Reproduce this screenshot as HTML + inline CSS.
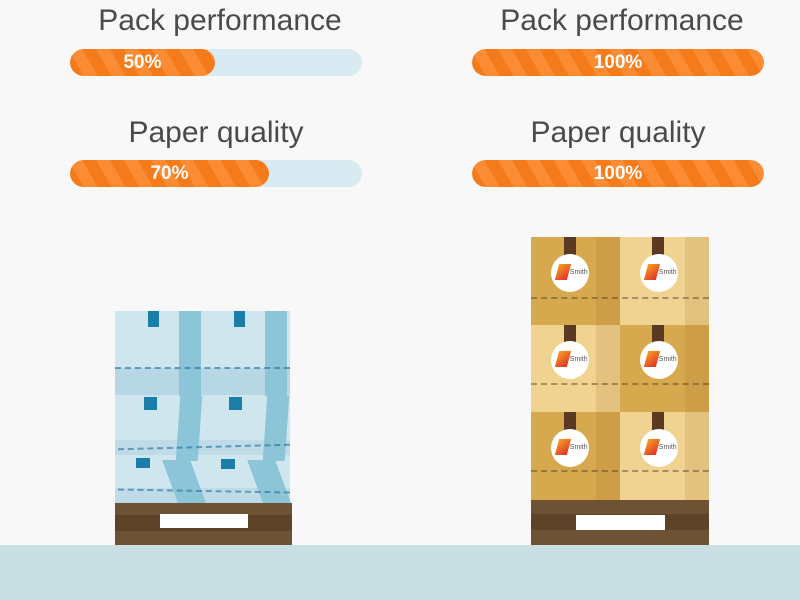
<!DOCTYPE html>
<html><head><style>
body{margin:0;width:800px;height:600px;background:#f8f8f8;position:relative;overflow:hidden;font-family:"Liberation Sans",sans-serif}
div{position:absolute;box-sizing:border-box}
.t{color:#4a4a4a;font-size:30px;text-align:center;width:320px}
.bar{height:27px;border-radius:14px;background:#d9ebf2;width:292px;overflow:hidden}
.fill{height:27px;border-radius:14px;left:0;top:0;background:repeating-linear-gradient(60deg,#f57a1a 0 12px,#fb8c34 12px 24px);color:#fff;font-weight:bold;font-size:19px;line-height:27px;text-align:center}
.dash{height:0;border-top:2px dashed rgba(80,60,30,.45)}
.bdash{height:0;border-top:2px dashed rgba(30,110,150,.6)}
.logo{width:38px;height:38px;border-radius:50%;background:#fff;font-size:7px;color:#555;line-height:38px;text-align:center}
.logo:before{content:"";position:absolute;left:6px;top:10px;width:12px;height:16px;background:linear-gradient(135deg,#f5a020,#e0302a);transform:skewX(-15deg)}
.tab{width:12px;height:18px;background:#5a3a22}
</style></head><body>
<div class="t" style="left:60px;top:4px">Pack performance</div>
<div class="bar" style="left:70px;top:49px"><div class="fill" style="width:145px">50%</div></div>
<div class="t" style="left:56px;top:116px">Paper quality</div>
<div class="bar" style="left:70px;top:160px"><div class="fill" style="width:199px">70%</div></div>
<div class="t" style="left:462px;top:4px">Pack performance</div>
<div class="bar" style="left:472px;top:49px"><div class="fill" style="width:292px">100%</div></div>
<div class="t" style="left:458px;top:116px">Paper quality</div>
<div class="bar" style="left:472px;top:160px"><div class="fill" style="width:292px">100%</div></div>

<div style="left:0;top:545px;width:800px;height:55px;background:#c9dfe2"></div>

<!-- left pallet -->
<div style="left:115px;top:311px;width:175px;height:192px;background:#d0e6ef"></div>
<div style="left:115px;top:368px;width:175px;height:27px;background:#b7d7e4"></div>
<div style="left:115px;top:440px;width:175px;height:15px;background:#bedbe7"></div>
<div style="left:115px;top:488px;width:175px;height:15px;background:#bedbe7"></div>
<div style="left:179px;top:311px;width:22px;height:85px;background:#8cc5d8"></div>
<div style="left:265px;top:311px;width:22px;height:85px;background:#8cc5d8"></div>
<div style="left:178px;top:396px;width:22px;height:65px;background:#8cc5d8;transform:skewX(-4deg)"></div>
<div style="left:265px;top:396px;width:22px;height:65px;background:#8cc5d8;transform:skewX(-4deg)"></div>
<div style="left:170px;top:460px;width:28px;height:43px;background:#8cc5d8;transform:skewX(20deg)"></div>
<div style="left:255px;top:460px;width:28px;height:43px;background:#8cc5d8;transform:skewX(20deg)"></div>
<div class="bdash" style="left:115px;top:367px;width:175px"></div>
<div class="bdash" style="left:118px;top:446px;width:172px;transform:rotate(-1.5deg)"></div>
<div class="bdash" style="left:118px;top:490px;width:172px;transform:rotate(1deg)"></div>
<div style="left:148px;top:311px;width:11px;height:16px;background:#1a7fa8"></div>
<div style="left:234px;top:311px;width:11px;height:16px;background:#1a7fa8"></div>
<div style="left:144px;top:397px;width:13px;height:13px;background:#1a7fa8"></div>
<div style="left:229px;top:397px;width:13px;height:13px;background:#1a7fa8"></div>
<div style="left:136px;top:458px;width:14px;height:10px;background:#1a7fa8"></div>
<div style="left:221px;top:459px;width:14px;height:10px;background:#1a7fa8"></div>
<div style="left:115px;top:503px;width:177px;height:42px;background:linear-gradient(#6e5236 0 12px,#5e4329 12px 28px,#6e5236 28px)"></div>
<div style="left:160px;top:514px;width:88px;height:14px;background:#fff"></div>

<!-- right pallet -->
<div style="left:531px;top:237px;width:89px;height:88px;background:#d7a94f"></div>
<div style="left:620px;top:237px;width:89px;height:88px;background:#f0d390"></div>
<div style="left:531px;top:325px;width:89px;height:87px;background:#f0d390"></div>
<div style="left:620px;top:325px;width:89px;height:87px;background:#d7a94f"></div>
<div style="left:531px;top:412px;width:89px;height:88px;background:#d7a94f"></div>
<div style="left:620px;top:412px;width:89px;height:88px;background:#f0d390"></div>
<div style="left:596px;top:237px;width:24px;height:263px;background:rgba(150,100,30,.15)"></div>
<div style="left:685px;top:237px;width:24px;height:263px;background:rgba(150,100,30,.15)"></div>
<div class="dash" style="left:531px;top:297px;width:178px"></div>
<div class="dash" style="left:531px;top:383px;width:178px"></div>
<div class="dash" style="left:531px;top:470px;width:178px"></div>
<div class="tab" style="left:564px;top:237px"></div><div class="tab" style="left:652px;top:237px"></div>
<div class="tab" style="left:564px;top:325px"></div><div class="tab" style="left:652px;top:325px"></div>
<div class="tab" style="left:564px;top:412px"></div><div class="tab" style="left:652px;top:412px"></div>
<div class="logo" style="left:551px;top:254px">&nbsp;&nbsp;&nbsp;DS Smith</div>
<div class="logo" style="left:640px;top:254px">&nbsp;&nbsp;&nbsp;DS Smith</div>
<div class="logo" style="left:551px;top:341px">&nbsp;&nbsp;&nbsp;DS Smith</div>
<div class="logo" style="left:640px;top:341px">&nbsp;&nbsp;&nbsp;DS Smith</div>
<div class="logo" style="left:551px;top:429px">&nbsp;&nbsp;&nbsp;DS Smith</div>
<div class="logo" style="left:640px;top:429px">&nbsp;&nbsp;&nbsp;DS Smith</div>
<div style="left:531px;top:500px;width:178px;height:45px;background:linear-gradient(#6e5236 0 14px,#5e4329 14px 30px,#6e5236 30px)"></div>
<div style="left:576px;top:515px;width:89px;height:15px;background:#fff"></div>
</body></html>
